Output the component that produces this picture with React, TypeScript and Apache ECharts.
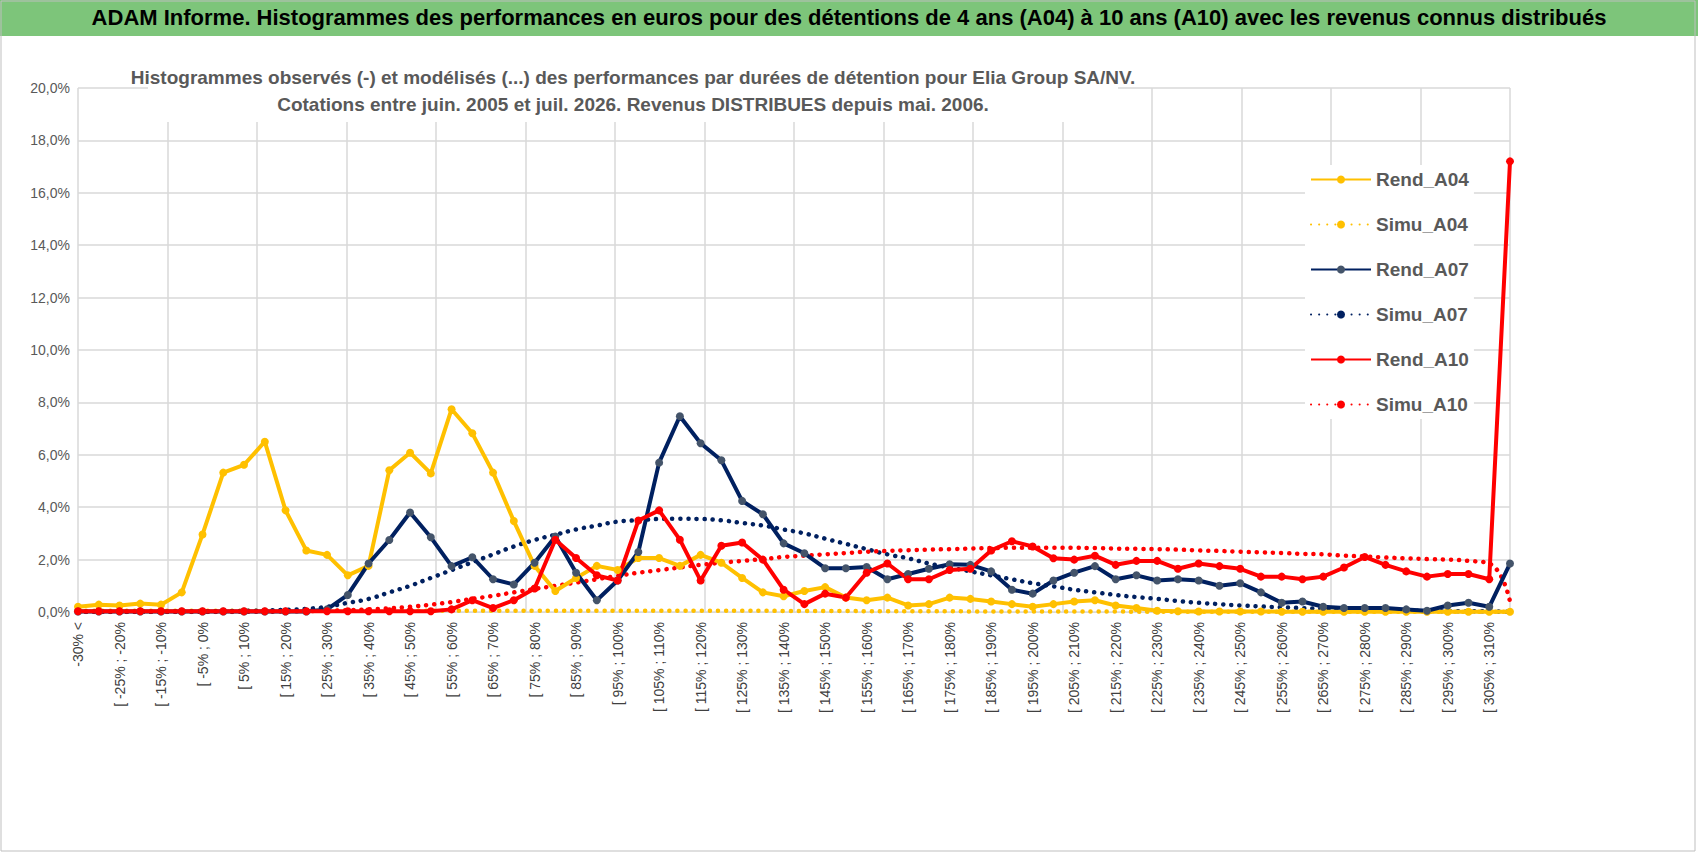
import React, { useEffect, useRef } from 'react';
import * as echarts from 'echarts';

// catégories de performance (70 classes de 5 %)
const categories: string[] = ['-30% <'];
for (let lo = -30; lo < 310; lo += 5) categories.push(`[ ${lo}% ; ${lo + 5}%`);
categories.push('> 310%');

const rendA04 = [
  0.2, 0.28, 0.25, 0.32, 0.28, 0.75, 2.96, 5.32, 5.62, 6.5,
  3.88, 2.35, 2.18, 1.4, 1.76, 5.41, 6.08, 5.29, 7.74, 6.82,
  5.32, 3.47, 1.76, 0.8, 1.3, 1.76, 1.6, 2.06, 2.06, 1.76,
  2.18, 1.88, 1.3, 0.75, 0.6, 0.8, 0.95, 0.55, 0.45, 0.55,
  0.25, 0.3, 0.55, 0.5, 0.4, 0.3, 0.2, 0.3, 0.4, 0.45,
  0.25, 0.15, 0.05, 0.03, 0.02, 0.02, 0.02, 0.02, 0.01, 0.01,
  0.01, 0.01, 0.01, 0.01, 0.01, 0.01, 0.01, 0.01, 0.01, 0.01,
];
const simuA04 = [
  0.05, 0.05, 0.05, 0.05, 0.05, 0.05, 0.05, 0.05, 0.05, 0.05,
  0.05, 0.05, 0.05, 0.05, 0.05, 0.05, 0.05, 0.05, 0.05, 0.05,
  0.05, 0.05, 0.05, 0.05, 0.05, 0.05, 0.05, 0.05, 0.05, 0.05,
  0.05, 0.05, 0.05, 0.05, 0.04, 0.04, 0.04, 0.04, 0.03, 0.03,
  0.03, 0.03, 0.03, 0.02, 0.02, 0.02, 0.02, 0.02, 0.02, 0.02,
  0.02, 0.01, 0.01, 0.01, 0.01, 0.01, 0.01, 0.01, 0.01, 0.01,
  0.01, 0.01, 0.01, 0.01, 0.01, 0.01, 0.01, 0.01, 0.01, 0.01,
];
const rendA07 = [
  0.02, 0.02, 0.02, 0.02, 0.02, 0.02, 0.02, 0.02, 0.02, 0.02,
  0.02, 0.02, 0.1, 0.65, 1.85, 2.75, 3.8, 2.85, 1.75, 2.09,
  1.25, 1.05, 1.88, 2.88, 1.5, 0.45, 1.2, 2.29, 5.7, 7.47,
  6.44, 5.79, 4.24, 3.73, 2.62, 2.24, 1.67, 1.67, 1.72, 1.25,
  1.45, 1.65, 1.82, 1.8, 1.55, 0.85, 0.7, 1.2, 1.5, 1.75,
  1.25, 1.4, 1.2, 1.25, 1.2, 1.0, 1.1, 0.75, 0.35, 0.4,
  0.2, 0.15, 0.15, 0.15, 0.1, 0.05, 0.25, 0.35, 0.2, 1.85,
];
const simuA07 = [
  0.01, 0.01, 0.01, 0.01, 0.01, 0.02, 0.02, 0.03, 0.04, 0.06,
  0.08, 0.12, 0.2, 0.35, 0.5, 0.75, 1.0, 1.3, 1.6, 1.9,
  2.2, 2.5, 2.75, 2.95, 3.15, 3.3, 3.45, 3.5, 3.55, 3.56,
  3.55, 3.5, 3.4, 3.3, 3.15, 3.0, 2.8, 2.6, 2.4, 2.2,
  2.05, 1.85, 1.7, 1.55, 1.4, 1.25, 1.1, 0.98, 0.85, 0.75,
  0.65, 0.57, 0.5, 0.42, 0.35, 0.3, 0.25, 0.21, 0.18, 0.15,
  0.12, 0.1, 0.08, 0.07, 0.05, 0.04, 0.03, 0.03, 0.02, 0.01,
];
const rendA10 = [
  0.03, 0.03, 0.03, 0.03, 0.03, 0.03, 0.03, 0.03, 0.03, 0.03,
  0.03, 0.03, 0.03, 0.03, 0.03, 0.03, 0.03, 0.03, 0.1, 0.45,
  0.15, 0.45, 0.9, 2.76, 2.06, 1.4, 1.2, 3.49, 3.88, 2.76,
  1.2, 2.53, 2.65, 2.0, 0.85, 0.3, 0.7, 0.55, 1.5, 1.85,
  1.25, 1.25, 1.6, 1.65, 2.35, 2.7, 2.5, 2.05, 2.0, 2.15,
  1.8, 1.95, 1.95, 1.65, 1.85, 1.75, 1.65, 1.35, 1.35, 1.25,
  1.35, 1.7, 2.1, 1.8, 1.55, 1.35, 1.45, 1.45, 1.25, 17.2,
];
const simuA10 = [
  0.0, 0.0, 0.0, 0.0, 0.0, 0.0, 0.0, 0.0, 0.01, 0.01,
  0.02, 0.03, 0.05, 0.07, 0.1, 0.14, 0.2, 0.28, 0.38, 0.5,
  0.62, 0.75, 0.88, 1.0, 1.12, 1.25, 1.38, 1.5, 1.6, 1.7,
  1.8, 1.88, 1.95, 2.02, 2.1, 2.15, 2.2, 2.25, 2.3, 2.33,
  2.36, 2.38, 2.4, 2.42, 2.44, 2.45, 2.45, 2.45, 2.45, 2.44,
  2.42, 2.41, 2.4, 2.38, 2.35, 2.33, 2.3, 2.28, 2.25, 2.22,
  2.2, 2.15, 2.12, 2.08, 2.05, 2.02, 2.0, 1.95, 1.85, 0.4,
];

const YELLOW = '#FFC000';
const NAVY = '#002060';
const RED = '#FF0000';
const FONT = '"Liberation Sans Narrow", "Liberation Sans", sans-serif';

const rend = (name: string, data: number[], color: string, marker: string) => ({
  name,
  type: 'line',
  data,
  symbol: 'circle',
  symbolSize: 8,
  lineStyle: { color, width: 4 },
  itemStyle: { color: marker, borderWidth: 0 },
  z: 3,
});

const simu = (name: string, data: number[], color: string) => ({
  name,
  type: 'line',
  data,
  smooth: true,
  showSymbol: false,
  symbol: 'none',
  lineStyle: { color, width: 4.5, type: [0.1, 8], cap: 'round' },
  itemStyle: { color },
  z: 2,
});

const App: React.FC = () => {
  const ref = useRef<HTMLDivElement>(null);

  useEffect(() => {
    document.body.style.margin = '0';
    if (!ref.current) return;
    const chart = echarts.init(ref.current, null, { renderer: 'svg' });
    chart.setOption({
      animation: false,
      backgroundColor: '#fff',
      textStyle: { fontFamily: FONT },
      graphic: [
        { type: 'rect', shape: { x: 0, y: 0, width: 1698, height: 36 }, style: { fill: '#7DC57A' } },
        { type: 'rect', shape: { x: 1, y: 1, width: 1694, height: 850 }, style: { fill: 'none', stroke: '#BFBFBF', lineWidth: 1 }, z: 10 },
        {
          type: 'text', left: 'center', top: 6, z: 11,
          style: {
            text: 'ADAM Informe. Histogrammes des performances en euros pour des détentions de 4 ans (A04) à 10 ans (A10) avec les revenus connus distribués',
            fill: '#000', font: `bold 22px ${FONT}`,
          },
        },
        { type: 'rect', shape: { x: 148, y: 60, width: 970, height: 62 }, style: { fill: '#fff' }, z: 5 },
        {
          type: 'text', x: 633, y: 64, z: 6,
          style: {
            text: 'Histogrammes observés (-) et modélisés (...) des performances par durées de détention pour Elia Group SA/NV.\nCotations entre juin. 2005 et juil. 2026. Revenus DISTRIBUES depuis mai. 2006.',
            fill: '#595959', font: `bold 19px ${FONT}`, align: 'center', lineHeight: 27,
          },
        },
      ],
      legend: {
        orient: 'vertical',
        left: 1305,
        top: 165,
        itemGap: 26,
        itemWidth: 60,
        itemHeight: 10,
        backgroundColor: '#fff',
        textStyle: { fontSize: 19, color: '#595959', fontFamily: FONT, fontWeight: 'bold' },
      },
      grid: { left: 78, right: 188, top: 88, bottom: 242 },
      xAxis: [
        {
          type: 'category',
          data: categories,
          boundaryGap: false,
          axisLine: { lineStyle: { color: '#D9D9D9' } },
          axisTick: { show: false },
          splitLine: { show: false },
          axisLabel: { rotate: 90, interval: 1, color: '#404040', fontSize: 14, fontFamily: FONT, margin: 10 },
        },
        {
          type: 'value', min: 0, max: 16, interval: 1, show: true, position: 'bottom',
          axisLine: { show: false }, axisTick: { show: false }, axisLabel: { show: false },
          splitLine: { lineStyle: { color: '#D9D9D9', width: 1.5 } },
        },
      ],
      yAxis: {
        type: 'value',
        min: 0,
        max: 20,
        interval: 2,
        axisLine: { show: false },
        axisTick: { show: false },
        axisLabel: { color: '#595959', fontSize: 14, fontFamily: FONT, formatter: (v: number) => `${v.toFixed(1).replace('.', ',')}%` },
        splitLine: { lineStyle: { color: '#D9D9D9', width: 1.5 } },
      },
      series: [
        rend('Rend_A04', rendA04, YELLOW, YELLOW),
        simu('Simu_A04', simuA04, YELLOW),
        rend('Rend_A07', rendA07, NAVY, '#44546A'),
        simu('Simu_A07', simuA07, NAVY),
        rend('Rend_A10', rendA10, RED, RED),
        simu('Simu_A10', simuA10, RED),
      ],
    });
    return () => chart.dispose();
  }, []);

  return <div ref={ref} style={{ width: 1698, height: 854 }} />;
};

export default App;
